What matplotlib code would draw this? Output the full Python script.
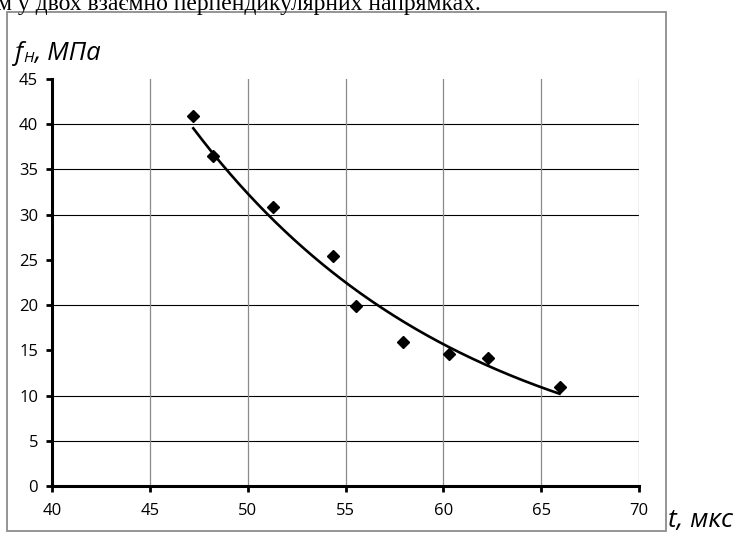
import numpy as np
import matplotlib
matplotlib.use("Agg")
import matplotlib.pyplot as plt
from matplotlib.patches import Rectangle

# ---- data ----
t_us = [47.22, 48.22, 51.28, 54.35, 55.54, 57.96, 60.30, 62.26, 65.94]
f_mpa = [40.9, 36.5, 30.9, 25.4, 19.9, 15.9, 14.57, 14.1, 10.9]
x_ticks = [40, 45, 50, 55, 60, 65, 70]
y_ticks = [0, 5, 10, 15, 20, 25, 30, 35, 40, 45]
h_grid = [5, 10, 20, 30, 35, 40]
v_grid = [45, 50, 55, 60, 65, 70]
caption = "м у двох взаємно перпендикулярних напрямках."
y_label_main = "f"
y_label_sub = "Н"
y_label_rest = ", МПа"
x_label = "t, мкс"

W, H = 739, 533
fig = plt.figure(figsize=(W / 100, H / 100), dpi=100)
fig.patch.set_facecolor("white")

def fx(px):
    return px / W

def fy(py):
    return 1 - py / H

# outer frame
fig.patches.append(Rectangle((fx(7), fy(531)), fx(666) - fx(7), fy(12) - fy(531),
                             transform=fig.transFigure, fill=False,
                             edgecolor="#8c8c8c", linewidth=1.3, zorder=0))

ax = fig.add_axes([fx(52), fy(486), fx(639) - fx(52), fy(79) - fy(486)])
ax.set_xlim(40, 70)
ax.set_ylim(0, 45)

for gy in h_grid:
    ax.axhline(gy, color="black", linewidth=0.8, zorder=1)
for gx in v_grid:
    ax.axvline(gx, color="#8a8a8a", linewidth=0.9, zorder=1)

# exponential trendline (least squares on log y)
b, a = np.polyfit(np.array(t_us), np.log(np.array(f_mpa)), 1)
xs = np.linspace(min(t_us), max(t_us), 200)
ax.plot(xs, np.exp(a + b * xs), color="black", linewidth=1.9, zorder=3)

ax.plot(t_us, f_mpa, linestyle="none", marker="D", markersize=6.5,
        color="black", zorder=4)

for side in ["top", "right"]:
    ax.spines[side].set_visible(False)
for side in ["left", "bottom"]:
    ax.spines[side].set_linewidth(2.2)
    ax.spines[side].set_color("black")

ax.set_xticks(x_ticks)
ax.set_yticks(y_ticks)
ax.tick_params(axis="both", direction="out", length=4, width=2, color="black",
               labelsize=12, labelcolor="black")
ax.tick_params(axis="x", pad=8)
ax.tick_params(axis="y", pad=6)
for lab in ax.get_xticklabels() + ax.get_yticklabels():
    lab.set_fontfamily("Open Sans")

# texts
fig.text(fx(-3), fy(10), caption, fontfamily="Liberation Serif", fontsize=17,
         ha="left", va="baseline", color="black")

renderer = fig.canvas.get_renderer()
t1 = fig.text(fx(15), fy(60), y_label_main, fontfamily="Open Sans", fontstyle="italic",
              fontsize=18.5, ha="left", va="baseline")
bb1 = t1.get_window_extent(renderer)
t2 = fig.text(bb1.x1 / W + fx(0.5), fy(62), y_label_sub, fontfamily="Open Sans",
              fontstyle="italic", fontsize=11, ha="left", va="baseline")
bb2 = t2.get_window_extent(renderer)
fig.text(bb2.x1 / W, fy(60), y_label_rest, fontfamily="Open Sans",
         fontstyle="italic", fontsize=18.5, ha="left", va="baseline")

fig.text(fx(668), fy(527), x_label, fontfamily="Open Sans", fontstyle="italic",
         fontsize=19, ha="left", va="baseline")

fig.savefig("out.png", dpi=100, facecolor="white")
